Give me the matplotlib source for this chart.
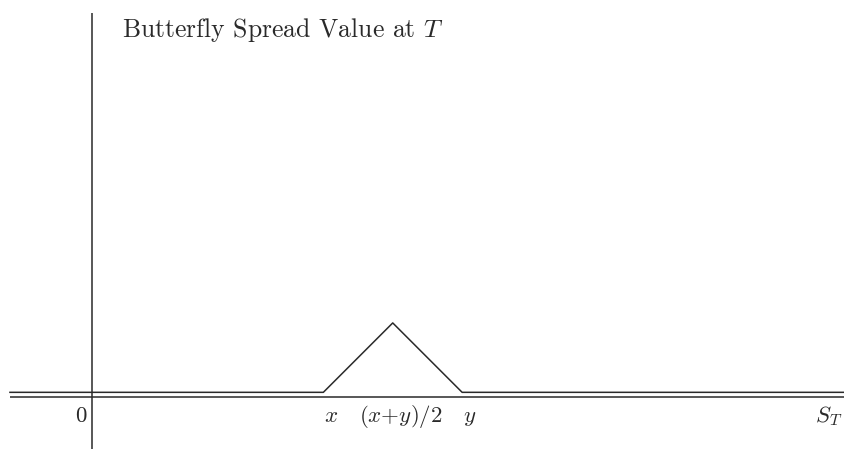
import matplotlib.pyplot as plt

plt.rcParams["font.family"] = "serif"
plt.rcParams["font.serif"] = ["cmr10", "DejaVu Serif"]
plt.rcParams["mathtext.fontset"] = "cm"
plt.rcParams["axes.formatter.use_mathtext"] = True

# payoff of the butterfly spread at expiry (strikes x=10, y=16)
spot_knots = [-3.55, 10.0, 13.0, 16.0, 33.0]
payoff = [0.0, 0.0, 3.0, 0.0, 0.0]

tick_pos = [10.0, 13.0, 16.0]
tick_labels = ["$x$", "$(x{+}y)/2$", "$y$"]

title = "Butterfly Spread Value at $T$"
ink = "#2a2a2a"
lift = 0.19  # payoff drawn just above the axis line
title_fs = 18.5
label_fs = 16.5

fig = plt.figure(figsize=(8.44, 4.49), dpi=100)
ax = fig.add_axes([0, 0, 1, 1])
ax.set_xlim(-3.98, 32.51)
ax.set_ylim(-2.26, 17.15)
ax.axis("off")

# axes
ax.plot([-3.55, 33.0], [0, 0], color=ink, lw=1.1, solid_capstyle="butt")
ax.plot([0, 0], [-3.0, 16.6], color=ink, lw=1.1, solid_capstyle="butt")

# payoff
ax.plot(spot_knots, [p + lift for p in payoff], color=ink, lw=1.1)

base = -1.08
ax.text(-0.22, base, "0", ha="right", va="baseline", fontsize=label_fs, color=ink)
for pos, lab in zip(tick_pos, tick_labels):
    ax.text(pos + 0.33, base, lab, ha="center", va="baseline",
            fontsize=label_fs, color=ink)
ax.text(32.42, base, "$S_T$", ha="right", va="baseline", fontsize=label_fs, color=ink)

ax.text(1.3, 15.57, title, ha="left", va="baseline", fontsize=title_fs, color=ink)

fig.savefig("out.png", dpi=100)
